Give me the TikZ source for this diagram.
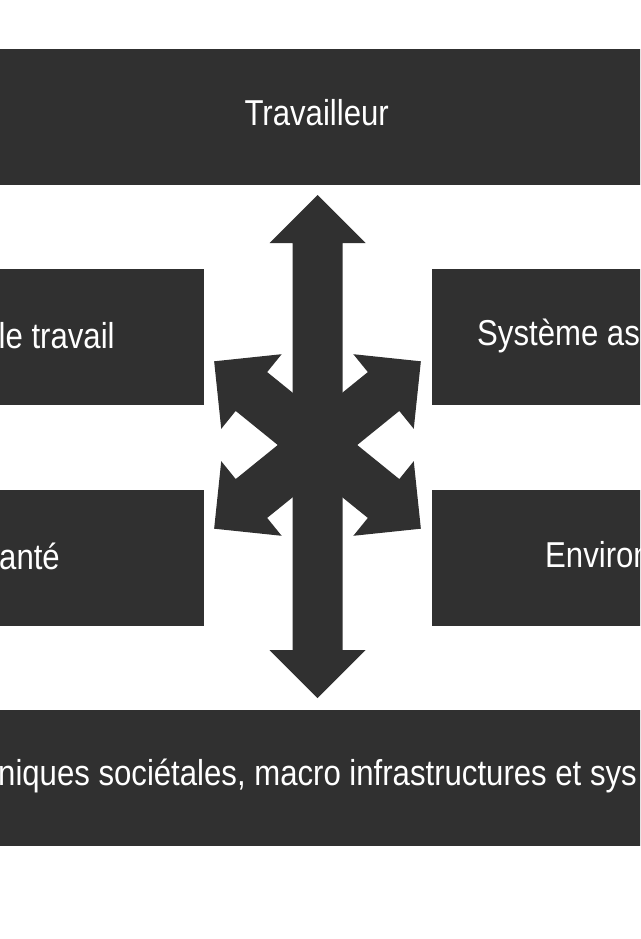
\documentclass[tikz,border=0pt]{standalone}
\usepackage{fontspec}
\setmainfont[FakeStretch=0.865]{Liberation Sans}
\definecolor{panelgray}{HTML}{303030}

\begin{document}
\begin{tikzpicture}[x=1pt,y=-1pt,
        panel/.style={fill=panelgray,inner sep=0pt,minimum height=136pt},
        caption/.style={text=white,inner sep=0pt,anchor=base west,font=\fontsize{36}{40}\selectfont}]
            \useasboundingbox (0,0) rectangle (640,939);
            \clip (0,0) rectangle (640,939);
            \node[panel,minimum width=740pt] (worker) at (320,117) {};
            \node[panel,minimum width=303.5pt] (worktask) at (51.75,337) {};
            \node[panel,minimum width=308.5pt] (system) at (585.75,337) {};
            \node[panel,minimum width=304pt] (health) at (52,558) {};
            \node[panel,minimum width=308.5pt] (environ) at (585.75,558) {};
            \node[panel,minimum width=740pt] (society) at (320,778) {};
            \coordinate (hub) at (317.5,445);
            \foreach \ang/\len in {90/250,270/253,141/133,219/133,39/133,-39/133}
                \fill[panelgray,shift={(hub)},rotate=\ang]
                (0,-25) -- (\len-48,-25) -- (\len-48,-48) -- (\len,0)
                -- (\len-48,48) -- (\len-48,25) -- (0,25) -- cycle;
            \node[caption,anchor=base] (workerlbl) at (316.7,125.7) {Travailleur};
            \node[caption] (worktasklbl) at (-1.5,348.3) {le travail};
            \node[caption] (systemlbl) at (477,345) {Système as};
            \node[caption] (healthlbl) at (-1,569) {anté};
            \node[caption] (environlbl) at (545,567.3) {Environ};
            \node[caption] (societylbl) at (-2,785.7) {niques sociétales, macro infrastructures et sys};
        \end{tikzpicture}
\end{document}
